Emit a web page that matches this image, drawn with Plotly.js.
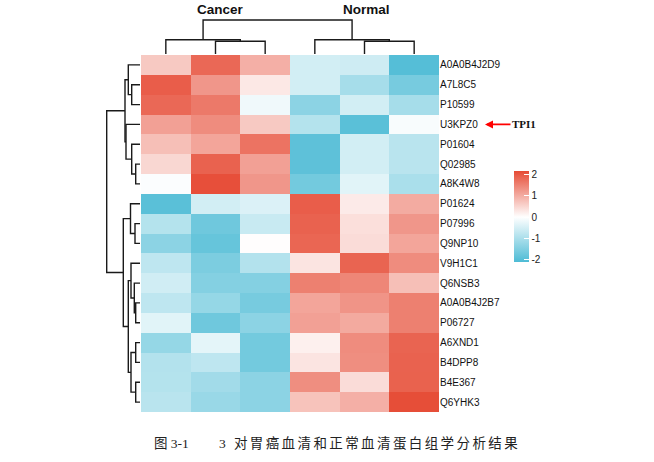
<!DOCTYPE html>
<html>
<head>
<meta charset="utf-8">
<script src="https://cdn.plot.ly/plotly-3.0.1.min.js"></script>
<style>html,body{margin:0;padding:0;background:#fff;}#chart{width:654px;height:462px;}</style>
</head>
<body>
<div id="chart"></div>
<script>
// ---------- data ----------
const proteins = ["A0A0B4J2D9","A7L8C5","P10599","U3KPZ0","P01604","Q02985","A8K4W8",
  "P01624","P07996","Q9NP10","V9H1C1","Q6NSB3","A0A0B4J2B7","P06727","A6XND1","B4DPP8","B4E367","Q6YHK3"];
const samples = ["C1","C2","C3","N1","N2","N3"];
const groups = ["Cancer","Normal"];
const groupColumns = [[0,1,2],[3,4,5]];

const cancer1 = [0.65,1.93,1.80,1.13,0.77,0.48,-0.05,-1.95,-0.88,-1.36,-0.77,-0.55,-0.77,-0.35,-1.25,-0.90,-0.88,-0.83];
const cancer2 = [1.80,1.25,1.60,1.37,1.07,1.87,2.10,-0.53,-1.70,-1.80,-1.55,-1.45,-1.25,-1.70,-0.32,-0.77,-1.10,-1.20];
const cancer3 = [0.95,0.28,-0.18,0.65,1.67,1.13,1.25,-0.42,-0.65,0.02,-0.90,-1.45,-1.60,-1.36,-1.65,-1.65,-1.36,-1.36];
const normal1 = [-0.53,-0.53,-1.36,-0.88,-1.90,-1.90,-1.65,1.93,1.87,1.83,0.32,1.52,1.07,1.13,0.18,0.32,1.35,0.72];
const normal2 = [-0.58,-1.05,-0.53,-1.95,-0.53,-0.53,-0.35,0.25,0.38,0.42,1.85,1.45,1.28,1.02,1.37,1.35,0.42,0.95];
const normal3 = [-2.00,-1.60,-1.05,-0.08,-0.83,-0.83,-1.00,1.00,1.25,1.07,1.37,0.77,1.52,1.52,1.85,1.87,1.88,2.12];

// row dendrogram merges (hclust style: negative = leaf number in display order, positive = earlier merge)
const rowMergeA = [-6,-2,-1,-5,-4, 3,-9,-8,-13,-12,-11,-15,-17,12,11, 8, 6];
const rowMergeB = [-7,-3, 2, 1, 4, 5,-10, 7,-14,  9, 10,-16,-18,13,14,15,16];
const rowMergeH = [4.3,8.3,11.7,8.3,14,15,5,9.5,4.3,5.7,9,4.3,4.3,9,11.7,16.7,33.3];
// column dendrogram merges
const colMergeA = [-2,-1,-5,-4,2];
const colMergeB = [-3, 1,-6, 3,4];
const colMergeH = [12.7,14.3,12.7,14.3,34];

const highlightProtein = "U3KPZ0";
const highlightLabel = "TPI1";
const captionNumber = "图 3-1";
const captionText = "3 对胃癌血清和正常血清蛋白组学分析结果";

// ---------- build ----------
const z = proteins.map((p,i)=>[cancer1[i],cancer2[i],cancer3[i],normal1[i],normal2[i],normal3[i]]);

function dendro(A,B,H){
  const pos=[], hts=[], xs=[], ys=[];
  const get=(k)=> k<0 ? [-k-1,0] : [pos[k-1],hts[k-1]];
  for(let i=0;i<A.length;i++){
    const [p1,h1]=get(A[i]), [p2,h2]=get(B[i]);
    xs.push(p1,p1,p2,p2,null); ys.push(h1,H[i],H[i],h2,null);
    pos.push((p1+p2)/2); hts.push(H[i]);
  }
  return {p:xs,h:ys};
}
const rd = dendro(rowMergeA,rowMergeB,rowMergeH);
const cd = dendro(colMergeA,colMergeB,colMergeH);

const W=654,Hh=462;
const hx0=141,hx1=439,hy0=55,hy1=412;
const zmin=-2.1,zmax=2.15;

const heat = {
  type:'heatmap', z:z, x:samples.map((s,i)=>i), y:proteins.map((p,i)=>i),
  xaxis:'x', yaxis:'y', zmin:zmin, zmax:zmax,
  colorscale:[[0,'#4DBBD5'],[(0-zmin)/(zmax-zmin),'#FFFFFF'],[1,'#E64B35']],
  hoverinfo:'skip',
  colorbar:{
    x:514/W, xanchor:'left', xpad:0, ypad:0,
    y:1-216.5/Hh, yanchor:'middle', lenmode:'pixels', len:91, thickness:15,
    outlinewidth:0, tickvals:[-2,-1,0,1,2], ticktext:['-2','-1','0','1','2'],
    ticks:'inside', ticklen:5, tickcolor:'#ffffff', tickwidth:1,
    tickfont:{family:'Liberation Sans, Arial', size:10, color:'#222'}
  }
};
const rowTree = {type:'scatter', mode:'lines', x:rd.h, y:rd.p, xaxis:'x2', yaxis:'y',
  line:{color:'#1a1a1a', width:1.4}, hoverinfo:'skip', showlegend:false};
const colTree = {type:'scatter', mode:'lines', x:cd.p, y:cd.h, xaxis:'x', yaxis:'y3',
  line:{color:'#1a1a1a', width:1.4}, hoverinfo:'skip', showlegend:false};

const hiIdx = proteins.indexOf(highlightProtein);
const annotations = groups.map((g,k)=>{
  const cols=groupColumns[k];
  const c=(cols[0]+cols[cols.length-1])/2;
  return {xref:'x', yref:'paper', x:c+(k===0?0.1:0.05), y:1-9.5/Hh, text:'<b>'+g+'</b>',
    showarrow:false, font:{family:'Liberation Sans, Arial', size:13.5, color:'#111'}, xanchor:'center', yanchor:'middle'};
});
annotations.push({xref:'paper', yref:'y', x:485/W, y:hiIdx, text:'<b>'+highlightLabel+'</b>',
  showarrow:true, ax:39, ay:0, arrowcolor:'#ff0000', arrowhead:2, arrowsize:1, arrowwidth:1.6,
  font:{family:'Liberation Serif, Times New Roman', size:11, color:'#111'}});
annotations.push({xref:'paper', yref:'paper', x:152/W, y:1-443/Hh, text:captionNumber, showarrow:false,
  xanchor:'left', yanchor:'middle',
  font:{family:'Liberation Serif, Noto Sans CJK SC', size:13.5, color:'#222'}});
annotations.push({xref:'paper', yref:'paper', x:217/W, y:1-443/Hh, text:captionText, showarrow:false,
  xanchor:'left', yanchor:'middle',
  font:{family:'Liberation Serif, Noto Sans CJK SC', size:13.5, color:'#222'}});

const layout = {
  width:W, height:Hh, margin:{l:0,r:0,t:0,b:0}, paper_bgcolor:'#fff', plot_bgcolor:'rgba(0,0,0,0)',
  showlegend:false,
  xaxis:{domain:[hx0/W,hx1/W], range:[-0.5,5.5], showticklabels:false, showgrid:false, zeroline:false, ticks:'', fixedrange:true},
  yaxis:{domain:[1-hy1/Hh,1-hy0/Hh], range:[17.5,-0.5], side:'right', tickvals:proteins.map((p,i)=>i), ticktext:proteins,
    showgrid:false, zeroline:false, ticks:'', ticklen:0,
    tickfont:{family:'Liberation Sans, Arial', size:10, color:'#111'}},
  xaxis2:{domain:[95/W,140/W], range:[45,0], anchor:'y', visible:false, showgrid:false, zeroline:false},
  yaxis3:{domain:[1-54/Hh,1-17/Hh], range:[0,37], anchor:'x', visible:false, showgrid:false, zeroline:false},
  annotations:annotations
};

Plotly.newPlot('chart',[heat,rowTree,colTree],layout,{displayModeBar:false,staticPlot:true}).then(()=>{
  document.querySelectorAll('.annotation-text').forEach(t=>{
    if(t.textContent.indexOf('3 对')===0){
      const w0 = t.getComputedTextLength();
      const x0 = parseFloat(t.getAttribute('x')) || 0;
      t.style.letterSpacing='2.4px';
      t.setAttribute('text-anchor','start');
      t.setAttribute('x', x0 - w0/2);
    }
  });
});
</script>
</body>
</html>
